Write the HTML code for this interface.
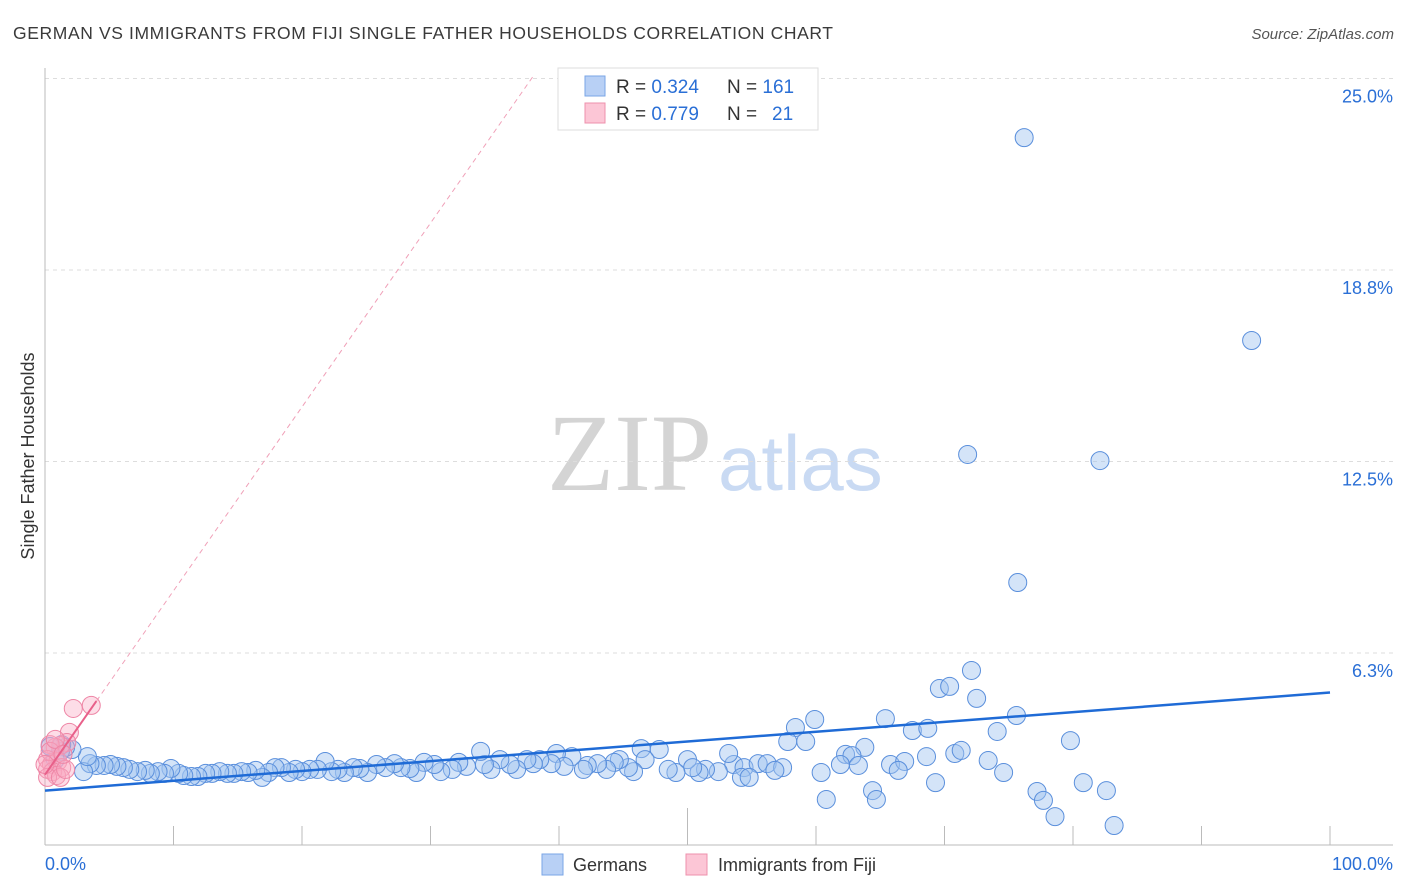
<!DOCTYPE html>
<html><head><meta charset="utf-8">
<style>
body{margin:0;background:#fff;font-family:"Liberation Sans",sans-serif;}
#wrap{position:relative;width:1406px;height:892px;overflow:hidden;}
</style></head>
<body>
<div id="wrap">
<svg id="svg" width="1406" height="892" xmlns="http://www.w3.org/2000/svg">
<text x="13" y="39" font-size="17.5" fill="#3a3a3a" textLength="820" lengthAdjust="spacing">GERMAN VS IMMIGRANTS FROM FIJI SINGLE FATHER HOUSEHOLDS CORRELATION CHART</text>
<text x="1394" y="39" font-size="15" fill="#555" font-style="italic" text-anchor="end">Source: ZipAtlas.com</text>
<text x="712" y="490" font-size="110" fill="#d4d4d4" font-family="Liberation Serif,serif" text-anchor="end">ZIP</text>
<text x="718" y="490" font-size="78" fill="#c9daf3">atlas</text>
<text transform="translate(34,456) rotate(-90)" font-size="18" fill="#333" text-anchor="middle">Single Father Households</text>
<g id="grid"></g><g id="ticks"></g><g id="pts"></g><g id="lines"></g>
<g>
<rect x="558" y="68" width="260" height="62" fill="#fff" stroke="#ddd"/>
<rect x="585" y="76" width="20" height="20" fill="#b8d0f5" stroke="#7aa6e6"/>
<rect x="585" y="103" width="20" height="20" fill="#fcc6d6" stroke="#ee90ac"/>
<text x="616" y="93" font-size="19" fill="#333">R = <tspan fill="#2a6fd6">0.324</tspan></text>
<text x="727" y="93" font-size="19" fill="#333">N = <tspan fill="#2a6fd6">161</tspan></text>
<text x="616" y="120" font-size="19" fill="#333">R = <tspan fill="#2a6fd6">0.779</tspan></text>
<text x="727" y="120" font-size="19" fill="#333">N = </text>
<text x="772" y="120" font-size="19" fill="#2a6fd6">21</text>
</g>
<g>
<rect x="542" y="854" width="21" height="21" fill="#b8d0f5" stroke="#7aa6e6"/>
<text x="573" y="871" font-size="18" fill="#333">Germans</text>
<rect x="686" y="854" width="21" height="21" fill="#fcc6d6" stroke="#ee90ac"/>
<text x="718" y="871" font-size="18" fill="#333">Immigrants from Fiji</text>
</g>
</svg>
</div>
<script>
const yTicks=[6.25,12.5,18.75,25];
const yTickLabels=["6.3%","12.5%","18.8%","25.0%"];
const xTickLabels=["0.0%","100.0%"];
const germanX=[76.2,93.9,71.8,82.1,75.7,72.1,69.6,70.4,72.5,75.6,65.4,59.9,58.4,67.5,68.7,74.1,79.8,57.8,59.2,63.8,62.3,62.8,70.8,71.3,68.6,65.8,66.9,61.9,63.3,66.4,73.4,74.6,60.4,69.3,80.8,82.6,77.2,77.7,64.4,64.7,60.8,78.6,83.2,53.6,53.2,54.4,55.5,56.2,57.4,56.8,54.2,54.8,52.4,51.4,50.9,50.0,50.4,49.1,48.5,47.8,46.4,46.7,45.8,45.4,44.7,44.3,43.7,43.0,42.2,41.9,41.0,39.8,40.4,39.4,38.5,38.0,37.5,36.7,36.2,35.4,34.7,34.2,33.9,32.8,32.2,31.7,30.8,30.3,29.5,28.9,28.4,27.7,27.2,26.5,25.8,25.1,24.5,24.0,23.3,22.8,22.3,21.8,21.2,20.6,20.0,19.5,19.0,18.4,17.9,17.4,16.9,16.4,15.8,15.3,14.7,14.2,13.6,13.0,12.5,11.9,11.4,10.8,10.4,9.8,9.3,8.8,8.2,7.8,7.2,6.6,6.1,5.6,5.1,4.6,4.0,3.5,3.0,3.3,2.1,1.6,1.2,0.8,0.4,1.3];
const germanY=[23.07,16.45,12.73,12.53,8.55,5.68,5.09,5.16,4.77,4.21,4.11,4.08,3.82,3.72,3.79,3.69,3.39,3.36,3.36,3.17,2.94,2.90,2.97,3.07,2.87,2.61,2.71,2.61,2.58,2.42,2.74,2.35,2.35,2.02,2.02,1.76,1.73,1.44,1.76,1.47,1.47,0.91,0.62,2.61,2.97,2.51,2.64,2.64,2.51,2.42,2.19,2.19,2.38,2.45,2.35,2.77,2.51,2.35,2.45,3.10,3.13,2.77,2.38,2.51,2.77,2.68,2.45,2.64,2.58,2.45,2.87,2.97,2.55,2.64,2.77,2.64,2.77,2.45,2.61,2.77,2.45,2.61,3.04,2.55,2.68,2.45,2.38,2.61,2.68,2.35,2.48,2.51,2.64,2.51,2.61,2.35,2.48,2.51,2.35,2.45,2.38,2.71,2.45,2.45,2.38,2.45,2.35,2.51,2.51,2.35,2.19,2.42,2.35,2.38,2.32,2.32,2.38,2.32,2.32,2.22,2.22,2.25,2.32,2.48,2.32,2.38,2.32,2.42,2.38,2.45,2.51,2.55,2.61,2.58,2.58,2.64,2.38,2.87,3.10,3.17,3.04,2.77,3.20,3.26];
const fijiX=[2.2,3.6,1.9,1.7,1.2,0.8,0.4,0.2,0.5,1.0,1.3,0.2,0.6,0.9,0.2,1.2,1.6,0.4,0.8,0.0,1.4];
const fijiY=[4.44,4.54,3.66,3.33,3.23,3.17,3.26,2.77,2.61,2.71,2.51,2.45,2.38,2.25,2.19,2.19,2.45,3.04,3.43,2.61,2.94];
const germanTrend=[1.76,4.96];
const fijiTrend=[2.28,0.60];

const NS="http://www.w3.org/2000/svg";
const X0=45,X1=1330,Y0=844.5,PXPER=30.64;
const sx=v=>X0+(X1-X0)*v/100;
const sy=v=>Y0-v*PXPER;
function mk(tag,attrs,parent){const e=document.createElementNS(NS,tag);for(const k in attrs)e.setAttribute(k,attrs[k]);document.getElementById(parent).appendChild(e);return e;}
yTicks.forEach((t,i)=>{
 const l=mk('line',{x1:X0,x2:1393,y1:sy(t),y2:sy(t),stroke:'#ddd','stroke-dasharray':'4,4'},'grid');
 
 
 const tx=mk('text',{x:1393,y:sy(t)+24,'font-size':18,fill:'#2a6fd6','text-anchor':'end'},'grid');
 tx.textContent=yTickLabels[i];
 
 
});
const ax=mk('line',{x1:X0,x2:X0,y1:68,y2:845,stroke:'#bbb'},'ticks');


const bx=mk('line',{x1:X0,x2:1393,y1:845,y2:845,stroke:'#bbb'},'ticks');


for(let i=1;i<=10;i++){
 const t=mk('line',{x1:sx(i*10),x2:sx(i*10),y1:i==5?808:826,y2:845,stroke:'#bbb'},'ticks');
 
 
}
[0,100].forEach((v,i)=>{
 const t=mk('text',{x:i?1393:45,y:870,'font-size':18,fill:'#2a6fd6','text-anchor':i?'end':'start'},'ticks');
 t.textContent=xTickLabels[i];
 
 
});
germanX.forEach((x,i)=>{
 const c=mk('circle',{cx:sx(x),cy:sy(germanY[i]),r:9,fill:'rgba(160,195,240,0.45)',stroke:'#5a8fdc','stroke-width':1},'pts');
 
 
});
fijiX.forEach((x,i)=>{
 const c=mk('circle',{cx:sx(x),cy:sy(fijiY[i]),r:9,fill:'rgba(250,170,195,0.4)',stroke:'#ee86a6','stroke-width':1},'pts');
 
 
});
const gl=mk('line',{x1:sx(0),y1:sy(germanTrend[0]),x2:sx(100),y2:sy(germanTrend[1]),stroke:'#1f6bd6','stroke-width':2.5},'lines');


const xe=(25.1-fijiTrend[0])/fijiTrend[1];
const fd=mk('line',{x1:sx(0),y1:sy(fijiTrend[0]),x2:sx(xe),y2:sy(fijiTrend[0]+fijiTrend[1]*xe),stroke:'#f0a0b8','stroke-width':1,'stroke-dasharray':'5,4'},'lines');


const fl=mk('line',{x1:sx(0),y1:sy(fijiTrend[0]),x2:sx(4),y2:sy(fijiTrend[0]+fijiTrend[1]*4),stroke:'#e8608a','stroke-width':2},'lines');


</script>
</body></html>
